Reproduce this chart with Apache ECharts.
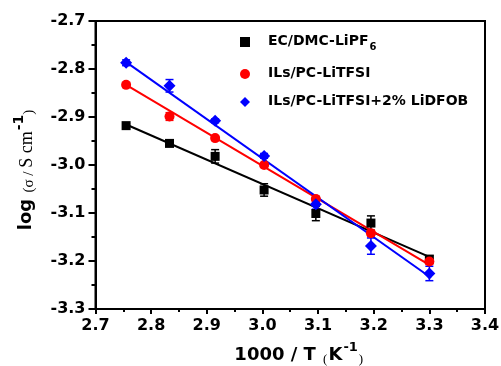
<!DOCTYPE html>
<html>
<head>
<meta charset="utf-8">
<script src="https://cdn.jsdelivr.net/npm/echarts@6/dist/echarts.min.js"></script>
<style>html,body{margin:0;padding:0;background:#fff}#c{width:501px;height:366px}</style>
</head>
<body>
<div id="c"></div>
<script>
// ---- data ----
var xValues = [2.755, 2.833, 2.915, 3.003, 3.096, 3.195, 3.300];
var ecDmcLiPF6 = [-2.918, -2.955, -2.982, -3.052, -3.101, -3.121, -3.196];
var ecDmcErr   = [0.004, 0.004, 0.014, 0.013, 0.015, 0.015, 0.007];
var ilsPcLiTFSI = [-2.833, -2.899, -2.944, -3.000, -3.071, -3.142, -3.201];
var ilsPcErr    = [0.004, 0.008, 0.004, 0.004, 0.006, 0.006, 0.006];
var ilsPcLiDFOB = [-2.787, -2.835, -2.908, -2.981, -3.082, -3.169, -3.226];
var ilsDfobErr  = [0.006, 0.013, 0.004, 0.005, 0.010, 0.017, 0.015];
var fitX = [2.752, 3.303];
var fitEcDmc = [-2.914, -3.193];
var fitIlsPc = [-2.831, -3.210];
var fitIlsDfob = [-2.783, -3.235];
var seriesNames = ['EC/DMC-LiPF6', 'ILs/PC-LiTFSI', 'ILs/PC-LiTFSI+2% LiDFOB'];
var xTicks = {min: 2.7, max: 3.4, interval: 0.1};
var yTicks = {min: -3.3, max: -2.7, interval: 0.1};

var FONT = 'DejaVu Sans';
var SERIF = 'Liberation Serif';
function pairs(xs, ys) { return xs.map(function (x, i) { return [x, ys[i]]; }); }
function errData(xs, ys, es) { return xs.map(function (x, i) { return [x, ys[i] - es[i], ys[i] + es[i]]; }); }
function errSeries(data, color) {
  return {
    type: 'custom', data: data, z: 3, silent: true,
    renderItem: function (params, api) {
      var x = api.value(0);
      var lo = api.coord([x, api.value(1)]);
      var hi = api.coord([x, api.value(2)]);
      var st = {stroke: color, lineWidth: 1.5};
      return {type: 'group', children: [
        {type: 'line', shape: {x1: lo[0], y1: lo[1], x2: hi[0], y2: hi[1]}, style: st},
        {type: 'line', shape: {x1: lo[0] - 4, y1: lo[1], x2: lo[0] + 4, y2: lo[1]}, style: st},
        {type: 'line', shape: {x1: hi[0] - 4, y1: hi[1], x2: hi[0] + 4, y2: hi[1]}, style: st}
      ]};
    }
  };
}
var colors = ['#000000', '#ff0000', '#0000ff'];
var chart = echarts.init(document.getElementById('c'), null, {renderer: 'canvas'});
chart.setOption({
  animation: false,
  backgroundColor: '#fff',
  grid: {left: 95.5, right: 16, top: 21, bottom: 57, show: true, borderColor: '#000', borderWidth: 2,
         backgroundColor: 'transparent', containLabel: false, outerBoundsMode: 'none'},
  legend: {
    data: seriesNames.map(function (n, i) { return {name: n, icon: ['rect', 'circle', 'diamond'][i]}; }),
    orient: 'vertical', left: 235, top: 29, itemWidth: 10, itemHeight: 10, itemGap: 14,
    selectedMode: false,
    formatter: function (n) {
      if (n === 'EC/DMC-LiPF6') return '{a|EC/DMC-LiPF}{s|6}';
      return '{a|' + n + '}';
    },
    textStyle: {
      color: '#000', fontFamily: FONT, fontWeight: 'bold', fontSize: 14,
      rich: {
        a: {fontFamily: FONT, fontWeight: 'bold', fontSize: 14, lineHeight: 16, verticalAlign: 'top', padding: [0, 0, 0, 13], color: '#000'},
        s: {fontFamily: FONT, fontWeight: 'bold', fontSize: 10, lineHeight: 12, verticalAlign: 'top', padding: [8, 0, 0, 1], color: '#000'}
      }
    }
  },
  xAxis: {
    type: 'value', min: xTicks.min, max: xTicks.max, interval: xTicks.interval,
    name: '{b|1000 / T }{p|(}{b|K}{u|-1}{p|)}',
    nameLocation: 'middle', nameGap: 32,
    nameTextStyle: {
      padding: [0, 0, 0, 18],
      rich: {
        b: {fontFamily: FONT, fontWeight: 'bold', fontSize: 18, lineHeight: 21, verticalAlign: 'top', padding: [5, 0, 0, 0], color: '#000'},
        p: {fontFamily: SERIF, fontWeight: 'normal', fontSize: 13, lineHeight: 15, verticalAlign: 'top', padding: [12, 1, 0, 1], color: '#000'},
        u: {fontFamily: FONT, fontWeight: 'bold', fontSize: 13, lineHeight: 15, verticalAlign: 'top', padding: [0, 0, 0, 1], color: '#000'}
      }
    },
    axisLine: {show: true, lineStyle: {color: '#000', width: 2}},
    axisTick: {show: true, inside: false, length: 5, lineStyle: {color: '#000', width: 2}},
    minorTick: {show: true, splitNumber: 2, length: 3, lineStyle: {color: '#000', width: 2}},
    splitLine: {show: false},
    axisLabel: {
      margin: 9, color: '#000', fontFamily: FONT, fontWeight: 'bold', fontSize: 16,
      formatter: function (v) { return v.toFixed(1); }
    }
  },
  yAxis: {
    type: 'value', min: yTicks.min, max: yTicks.max, interval: yTicks.interval,
    name: '{l|log }{p|(σ / }{b|S cm}{u|-1}{p|)}',
    nameLocation: 'middle', nameGap: 62, nameRotate: 90,
    nameTextStyle: {
      padding: [0, 10, 0, 0],
      rich: {
        l: {fontFamily: FONT, fontWeight: 'bold', fontSize: 18, lineHeight: 21, verticalAlign: 'top', padding: [5, 0, 0, 0], color: '#000'},
        p: {fontFamily: SERIF, fontWeight: 'normal', fontSize: 15, lineHeight: 17, verticalAlign: 'top', padding: [9, 0, 0, 0], color: '#000'},
        b: {fontFamily: SERIF, fontWeight: 'normal', fontSize: 18, lineHeight: 20, verticalAlign: 'top', padding: [6, 0, 0, 0], color: '#000'},
        u: {fontFamily: FONT, fontWeight: 'bold', fontSize: 14, lineHeight: 16, verticalAlign: 'top', padding: [0, 0, 0, 1], color: '#000'}
      }
    },
    axisLine: {show: true, lineStyle: {color: '#000', width: 2}},
    axisTick: {show: true, inside: false, length: 7, lineStyle: {color: '#000', width: 2}},
    minorTick: {show: true, splitNumber: 2, length: 4, lineStyle: {color: '#000', width: 2}},
    splitLine: {show: false},
    axisLabel: {
      margin: 10, color: '#000', fontFamily: FONT, fontWeight: 'bold', fontSize: 16,
      formatter: function (v) { return v.toFixed(1); }
    }
  },
  series: [
    {type: 'line', data: pairs(fitX, fitEcDmc), symbol: 'none', z: 2, lineStyle: {color: colors[0], width: 2}, silent: true},
    {type: 'line', data: pairs(fitX, fitIlsPc), symbol: 'none', z: 2, lineStyle: {color: colors[1], width: 2}, silent: true},
    {type: 'line', data: pairs(fitX, fitIlsDfob), symbol: 'none', z: 2, lineStyle: {color: colors[2], width: 2}, silent: true},
    errSeries(errData(xValues, ecDmcLiPF6, ecDmcErr), colors[0]),
    errSeries(errData(xValues, ilsPcLiTFSI, ilsPcErr), colors[1]),
    errSeries(errData(xValues, ilsPcLiDFOB, ilsDfobErr), colors[2]),
    {name: seriesNames[0], type: 'scatter', data: pairs(xValues, ecDmcLiPF6), symbol: 'rect', symbolSize: 9, z: 4, itemStyle: {color: colors[0], opacity: 1}},
    {name: seriesNames[1], type: 'scatter', data: pairs(xValues, ilsPcLiTFSI), symbol: 'circle', symbolSize: 10, z: 4, itemStyle: {color: colors[1], opacity: 1}},
    {name: seriesNames[2], type: 'scatter', data: pairs(xValues, ilsPcLiDFOB), symbol: 'diamond', symbolSize: 12, z: 4, itemStyle: {color: colors[2], opacity: 1}}
  ]
});
</script>
</body>
</html>
